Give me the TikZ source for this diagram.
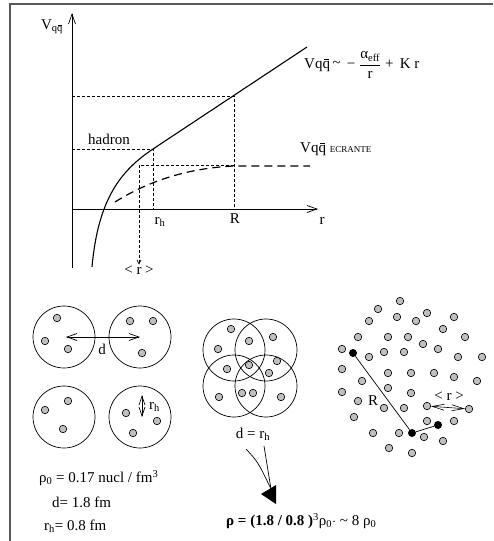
\documentclass[tikz,border=0pt]{standalone}
\usepackage{fontspec}
\usepackage{amsmath}
\setmainfont{Liberation Serif}
\usetikzlibrary{arrows.meta}
\newcommand{\qbar}{q\llap{\raisebox{1.25ex}{\rule{0.3em}{0.06em}}\kern0.08em}}
\newcommand{\Vqq}{Vq\qbar}

\begin{document}
\begin{tikzpicture}[x=1pt,y=-1pt,
    every node/.style={font=\fontsize{15}{18}\selectfont, inner sep=1pt},
    guide/.style={line width=0.6pt, dash pattern=on 3pt off 2pt},
    screened/.style={line width=1.2pt, dash pattern=on 8pt off 5pt},
    axis/.style={line width=0.7pt, -{Straight Barb[length=10pt,width=7pt]}},
    grain/.style={circle, draw, line width=0.6pt, fill=gray!50, inner sep=0pt, minimum size=7.5pt},
    quark/.style={circle, fill=black, inner sep=0pt, minimum size=8pt},
    twoway/.style={line width=0.7pt, {Straight Barb[length=10pt,width=7pt]}-{Straight Barb[length=10pt,width=7pt]}}]
    \useasboundingbox (0,0) rectangle (493,541);
    \draw[gray!70!black, line width=1.2pt] (493,4) -- (10,4) -- (10,541);
    % potentiel
    \coordinate (ybot) at (72,268);
    \coordinate (ytip) at (72,13);
    \coordinate (O) at (72,209);
    \coordinate (xtip) at (318,209);
    \coordinate (H) at (153,149);
    \coordinate (P) at (234,96);
    \coordinate (S) at (234,165);
    \draw[axis] (ybot) -- (ytip);
    \draw[axis] (O) -- (xtip);
    \draw[line width=1.1pt] (92,267) .. controls (98,200) and (120,171) .. (H) -- (307,47);
    \draw[guide] (72,96) -- (P) -- (234,209);
    \draw[guide] (72,149) -- (H) -- (153,209);
    \draw[screened] (115,202) .. controls (150,180) and (190,168) .. (234,166) -- (310,166);
    \node (vlab) at (52,27) {V\textsubscript{q\qbar}};
    \node (rlab) at (322,221) {r};
    \node (rhlab) at (160,222) {r\textsubscript{h}};
    \node (Rlab) at (235,219) {R};
    \node (hadr) at (109,139) {hadron};
    \node (rmoy) at (139,270) {< r >};
    \draw[guide, -{Straight Barb[length=4pt,width=4pt]}] (S) -| (rmoy.north);
    \node[anchor=west] (cornell) at (303,65) {\Vqq\,\raisebox{0.1ex}{\textasciitilde}\, − $\dfrac{\text{α\textsubscript{eff}}}{\text{r}}$ + \,K r};
    \node[anchor=west] (ecran) at (299,149) {\Vqq\ {\fontsize{9}{10}\selectfont ECRANTE}};
    % hadrons separes
    \foreach \n/\cx/\cy in {A/64/337, B/140/337, C/64/417, D/140/417} {
        \draw[line width=0.7pt] (\cx,\cy) circle[radius=31pt];
        \coordinate (c\n) at (\cx,\cy);
    }
    \foreach \x/\y in {57/318, 45/341, 68/349, 130/321, 153/321, 142/353,
                       68/401, 45/410, 63/429, 126/413, 157/421, 133/433}
        \node[grain] at (\x,\y) {};
    \draw[twoway] (66,337) -- (cB);
    \node (dlab) at (102,349) {d};
    \coordinate (rt) at (142,395);
    \coordinate (rb) at (142,417);
    \draw[line width=0.7pt, {Straight Barb[length=9pt,width=6pt]}-{Straight Barb[length=9pt,width=6pt]}] (rt) -- (rb);
    \node[anchor=west] (rhD) at (148,407) {r\textsubscript{h}};
    \node[anchor=west] (rho0) at (38,478) {ρ\textsubscript{0} = 0.17 nucl / fm\textsuperscript{3}};
    \node[anchor=west] (dval) at (51,502) {d= 1.8 fm};
    \node[anchor=west] (rhval) at (43,526) {r\textsubscript{h}= 0.8 fm};
    % hadrons superposes
    \foreach \cx/\cy in {234/350, 266/350, 234/386, 266/386}
        \draw[line width=0.7pt] (\cx,\cy) circle[radius=31pt];
    \foreach \x/\y in {231/329, 273/337, 249/341, 218/349, 277/361, 227/369,
                       249/365, 269/373, 219/397, 242/393, 253/393, 281/397}
        \node[grain] at (\x,\y) {};
    \node (drh) at (253,434) {d = r\textsubscript{h}};
    \coordinate (f1) at (246,449);
    \coordinate (f2) at (264,446);
    \coordinate (tip) at (271,489);
    \draw[line width=0.7pt] (f1) .. controls (258,462) .. (tip);
    \draw[line width=0.7pt] (f2) -- (tip);
    \fill (261,494) -- (276,485) -- (276,504) -- cycle;
    \node[anchor=west] (rhoQ) at (225,521) {\textbf{ρ = (1.8 / 0.8 )}\textsuperscript{3}ρ\textsubscript{0}$\cdot$ \textasciitilde\ 8 ρ\textsubscript{0}};
    % matiere de quarks
    \foreach \x/\y in {400/301, 378/309, 369/321, 397/317, 416/321, 427/313, 454/317,
                       443/329, 358/337, 388/337, 408/337, 423/344, 438/349, 465/337,
                       342/349, 369/357, 384/352, 404/352, 458/357, 482/357,
                       342/369, 362/381, 388/373, 411/373, 434/373, 454/377, 477/381,
                       342/392, 358/401, 388/388, 411/393, 384/408, 404/408,
                       354/417, 427/421, 454/421, 373/433, 399/433, 424/437,
                       443/441, 389/448, 412/453}
        \node[grain] at (\x,\y) {};
    \node[grain] (ra) at (427,406) {};
    \node[grain] (rb2) at (469,409) {};
    \node[quark] (q1) at (353,353) {};
    \node[quark] (q2) at (412,433) {};
    \node[quark] (q3) at (438,425) {};
    \draw[line width=0.7pt] (q1) -- (q2) -- (q3);
    \draw[line width=0.6pt, {Straight Barb[length=12pt,width=6pt]}-{Straight Barb[length=12pt,width=6pt]}] (ra) -- (rb2);
    \node (Rq) at (373,401) {R};
    \node (rq) at (449,396) {< r >};
\end{tikzpicture}
\end{document}
